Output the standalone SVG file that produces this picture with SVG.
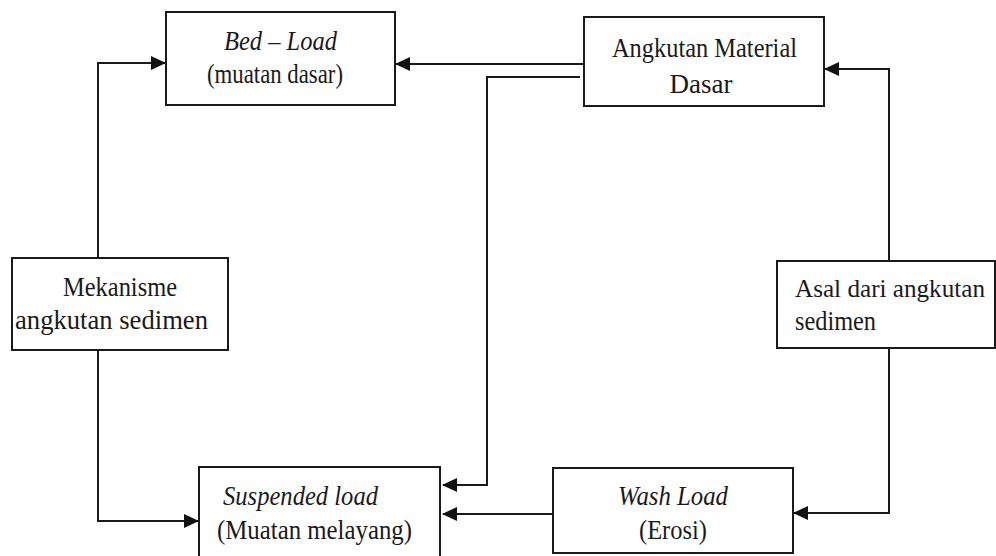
<svg xmlns="http://www.w3.org/2000/svg" width="996" height="556" viewBox="0 0 996 556">
<style>
.box{fill:#fff;stroke:#1a1a1a;stroke-width:2}
.t{font-family:'Liberation Serif','Times New Roman','DejaVu Serif',serif;font-size:27px;fill:#1a1a1a}
.i{font-style:italic}
.c{fill:none;stroke:#1a1a1a;stroke-width:2}
</style>
<defs>
<marker id="ah" markerUnits="userSpaceOnUse" markerWidth="15" markerHeight="14" refX="14" refY="7" orient="auto">
<path d="M0,0 L15,7 L0,14 z" fill="#111"/>
</marker>
</defs>
<rect width="996" height="556" fill="#fff"/>
<g id="connectors">
<path class="c" d="M584,64 H396" marker-end="url(#ah)"/>
<path class="c" d="M580,77 H487 V485 H443" marker-end="url(#ah)"/>
<path class="c" d="M98,258 V63 H165" marker-end="url(#ah)"/>
<path class="c" d="M98,350 V521 H198" marker-end="url(#ah)"/>
<path class="c" d="M889,261 V69 H825" marker-end="url(#ah)"/>
<path class="c" d="M889,348 V513 H794" marker-end="url(#ah)"/>
<path class="c" d="M553,514 H443" marker-end="url(#ah)"/>
</g>
<g id="bedload">
<rect class="box" x="166" y="12" width="229" height="93"/>
<text class="t i" x="224" y="50" textLength="113" lengthAdjust="spacingAndGlyphs">Bed – Load</text>
<text class="t" x="207" y="83" textLength="136" lengthAdjust="spacingAndGlyphs">(muatan dasar)</text>
</g>
<g id="angkutan">
<rect class="box" x="584" y="17" width="240" height="89"/>
<text class="t" x="612" y="57" textLength="185" lengthAdjust="spacingAndGlyphs">Angkutan Material</text>
<text class="t" x="701" y="93" text-anchor="middle">Dasar</text>
</g>
<g id="mekanisme">
<rect class="box" x="12" y="258" width="216" height="92"/>
<text class="t" x="63" y="296" textLength="114" lengthAdjust="spacingAndGlyphs">Mekanisme</text>
<text class="t" x="15" y="329" textLength="193" lengthAdjust="spacingAndGlyphs">angkutan sedimen</text>
</g>
<g id="asal">
<rect class="box" x="777" y="261" width="218" height="87"/>
<text class="t" x="795" y="297" font-size="25" style="font-size:25px" textLength="190" lengthAdjust="spacingAndGlyphs">Asal dari angkutan</text>
<text class="t" x="795" y="330" textLength="81" lengthAdjust="spacingAndGlyphs">sedimen</text>
</g>
<g id="suspended">
<rect class="box" x="199" y="467" width="241" height="100"/>
<text class="t i" x="223" y="505" textLength="155" lengthAdjust="spacingAndGlyphs">Suspended load</text>
<text class="t" x="217" y="539" textLength="195" lengthAdjust="spacingAndGlyphs">(Muatan melayang)</text>
</g>
<g id="washload">
<rect class="box" x="553" y="468" width="240" height="85"/>
<text class="t i" x="618" y="505" textLength="110" lengthAdjust="spacingAndGlyphs">Wash Load</text>
<text class="t" x="639" y="539" textLength="68" lengthAdjust="spacingAndGlyphs">(Erosi)</text>
</g>
</svg>
